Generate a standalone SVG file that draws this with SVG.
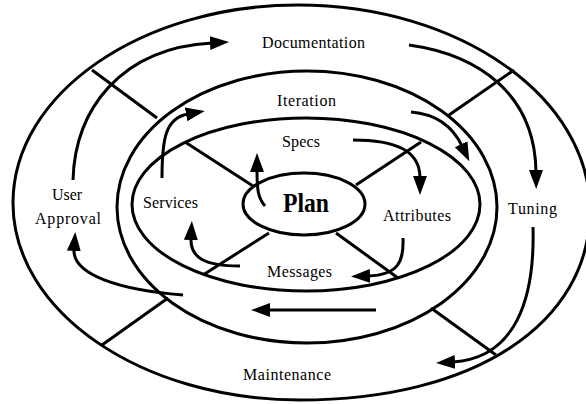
<svg xmlns="http://www.w3.org/2000/svg" width="586" height="404" viewBox="0 0 586 404">
  <defs>
    <marker id="head" markerUnits="userSpaceOnUse" markerWidth="20" markerHeight="16" viewBox="0 0 20 16" refX="2" refY="7" orient="auto">
      <path d="M0,0 L19,7 L0,14 Z" fill="#000"/>
    </marker>
    <style>
      .ring { fill: none; stroke: #000; stroke-width: 3; }
      .div { stroke: #000; stroke-width: 3; fill: none; }
      .arrow { fill: none; stroke: #000; stroke-width: 3; marker-end: url(#head); }
      .lbl { font-family: "Liberation Serif", "Times New Roman", serif; font-size: 16px; fill: #000; }
      .plan { font-family: "Liberation Serif", "Times New Roman", serif; font-size: 27px; font-weight: bold; fill: #000; }
    </style>
  </defs>
  <rect width="586" height="404" fill="#fff"/>

  <!-- concentric rings; the outer one is hand-drawn, fuller towards the lower right -->
  <g id="ring-outer">
    <path class="ring" d="M13,203 C13,94 141,5 298,5 C459,5 590,97 590,210 C590,324 474,400 300,400 C142,400 13,312 13,203 Z"/>
  </g>
  <g id="ring-iteration"><ellipse class="ring" cx="307" cy="207" rx="190" ry="136"/></g>
  <g id="ring-specs"><ellipse class="ring" cx="306" cy="204.5" rx="174" ry="86.5"/></g>

  <!-- radial dividers -->
  <g id="dividers">
    <line class="div" x1="92" y1="70" x2="157" y2="118"/>
    <line class="div" x1="514" y1="70" x2="449" y2="115"/>
    <line class="div" x1="102" y1="345" x2="168" y2="298"/>
    <line class="div" x1="431" y1="308" x2="496" y2="355"/>
    <line class="div" x1="185" y1="142" x2="253" y2="186"/>
    <line class="div" x1="421" y1="142" x2="356" y2="185"/>
    <line class="div" x1="203" y1="275" x2="269" y2="233"/>
    <line class="div" x1="336" y1="233" x2="398" y2="278"/>
  </g>

  <g id="plan">
    <ellipse class="ring" cx="304" cy="204" rx="61" ry="31" fill="#fff"/>
    <text class="plan" x="283" y="212" textLength="46" lengthAdjust="spacingAndGlyphs">Plan</text>
  </g>

  <!-- flow arrows -->
  <g id="connectors">
    <path class="arrow" d="M73,180 C75,110 120,48 212,43"/>
    <path class="arrow" d="M409,45 C480,55 535,95 536,172"/>
    <path class="arrow" d="M162,178 C162,140 165,118 188,114"/>
    <path class="arrow" d="M411,112 C435,114 452,125 462,146"/>
    <path class="arrow" d="M353,140 C395,140 420,150 420,178"/>
    <path class="arrow" d="M265,206 C258,198 257,190 257,170"/>
    <path class="arrow" d="M403,238 C404,262 398,275 368,276"/>
    <path class="arrow" d="M240,266 C205,266 190,258 191,238"/>
    <path class="arrow" d="M376,310 L268,310"/>
    <path class="arrow" d="M183,295 C120,290 72,275 74,249"/>
    <path class="arrow" d="M533,227 C535,300 515,358 453,362"/>
  </g>

  <g id="documentation"><text class="lbl" x="262" y="48" textLength="103" lengthAdjust="spacing">Documentation</text></g>
  <g id="iteration"><text class="lbl" x="277" y="106" textLength="59" lengthAdjust="spacing">Iteration</text></g>
  <g id="specs"><text class="lbl" x="282" y="147" textLength="38" lengthAdjust="spacing">Specs</text></g>
  <g id="services"><text class="lbl" x="143" y="208" textLength="55" lengthAdjust="spacing">Services</text></g>
  <g id="attributes"><text class="lbl" x="383" y="221" textLength="68" lengthAdjust="spacing">Attributes</text></g>
  <g id="messages"><text class="lbl" x="267" y="277" textLength="65" lengthAdjust="spacing">Messages</text></g>
  <g id="user-approval">
    <text class="lbl" x="52" y="200" textLength="30" lengthAdjust="spacing">User</text>
    <text class="lbl" x="35" y="224" textLength="66" lengthAdjust="spacing">Approval</text>
  </g>
  <g id="tuning"><text class="lbl" x="508" y="214" textLength="49" lengthAdjust="spacing">Tuning</text></g>
  <g id="maintenance"><text class="lbl" x="243" y="380" textLength="88" lengthAdjust="spacing">Maintenance</text></g>
</svg>
